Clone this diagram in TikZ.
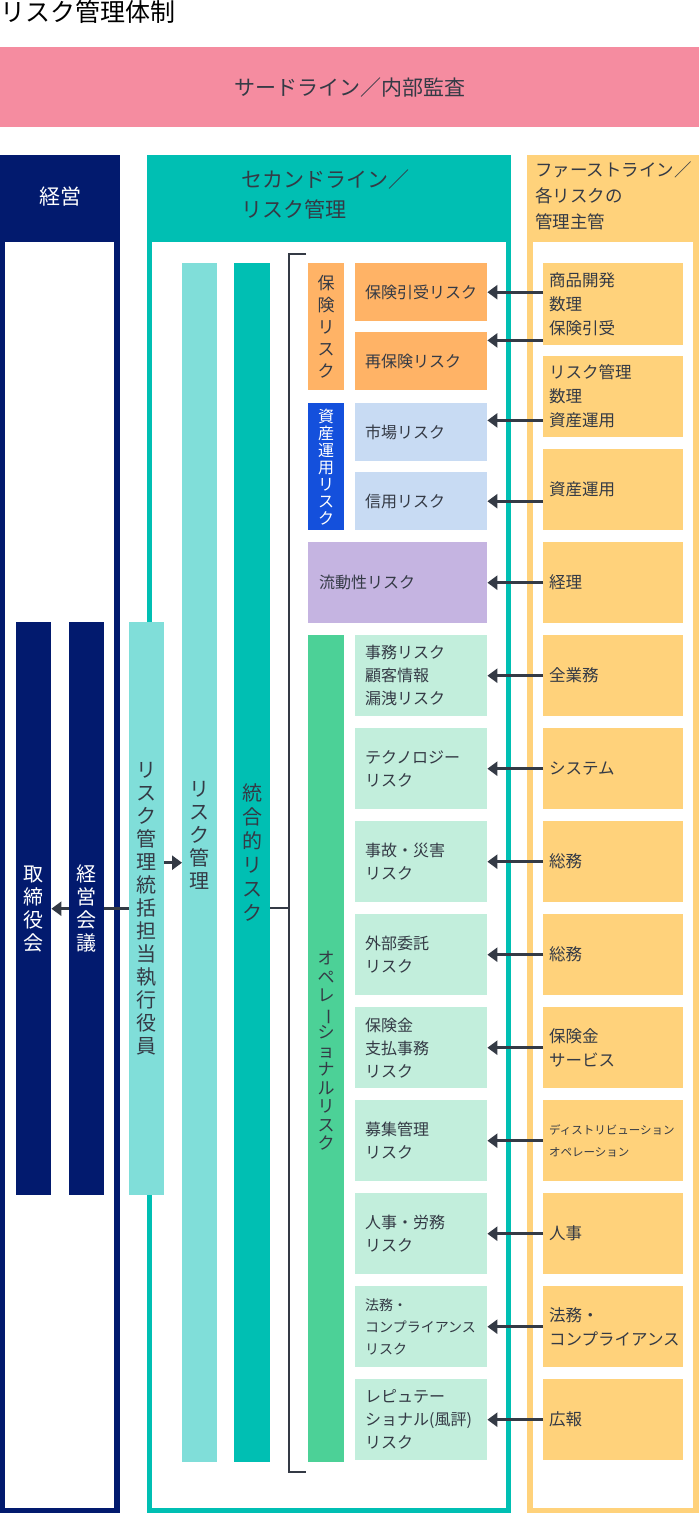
\documentclass[tikz,border=0pt]{standalone}
\usepackage{fontspec}
\setmainfont{Noto Sans CJK JP}
\usetikzlibrary{arrows.meta,positioning}
\definecolor{navy}{HTML}{021A6E}
\definecolor{teal}{HTML}{00BFB3}
\definecolor{lteal}{HTML}{80DED9}
\definecolor{pinkband}{HTML}{F58CA0}
\definecolor{firstc}{HTML}{FFD27B}
\definecolor{insor}{HTML}{FFB366}
\definecolor{assetb}{HTML}{1450DC}
\definecolor{lblue}{HTML}{C8DBF3}
\definecolor{liqp}{HTML}{C5B4E1}
\definecolor{opg}{HTML}{4CD197}
\definecolor{lgreen}{HTML}{C2EEDC}
\definecolor{ink}{HTML}{343A45}
\newcommand{\subfont}{\fontsize{16}{23}\selectfont}
\newcommand{\lowfont}{\fontsize{14}{22}\selectfont}
\newcommand{\frfont}{\fontsize{16.5}{24}\selectfont}
\newcommand{\tinyfont}{\fontsize{11.5}{22}\selectfont}
\newcommand{\vbar}{\rotatebox[origin=c]{-90}{ー}}
\tikzset{
  bar/.style={anchor=north west, minimum width=35pt, inner sep=0pt, align=center},
  sub/.style={anchor=north west, minimum width=132pt, text width=112pt, inner xsep=10pt,
    align=left, minimum height=81pt, text=ink, font=\subfont},
  frbox/.style={anchor=north west, fill=firstc, minimum width=140pt, text width=128pt,
    inner xsep=6pt, align=left, minimum height=81pt, text=ink, font=\frfont},
  arr/.style={draw=ink, line width=3pt, -{Triangle[length=10pt,width=14pt]}},
}
\begin{document}
\begin{tikzpicture}[x=1pt,y=-1pt]
\useasboundingbox (0,0) rectangle (699,1513);
% title and third line
\node[anchor=north west, inner sep=0pt, font=\fontsize{25}{28}\selectfont, text=black] (title) at (0,0) {リスク管理体制};
\node[anchor=north west, fill=pinkband, minimum width=699pt, minimum height=80pt, inner sep=0pt,
  font=\fontsize{21}{24}\selectfont, text=ink] (third) at (0,47) {サードライン／内部監査};
% columns
\fill[navy] (0,155) rectangle (120,1513);
\fill[white] (5,242) rectangle (114,1508);
\node[text=white, font=\fontsize{21}{24}\selectfont] (mgmt) at (60,197) {経営};
\fill[teal] (147,155) rectangle (511,1513);
\fill[white] (152,242) rectangle (506,1508);
\node[anchor=north west, inner sep=0pt, align=left, text=ink, font=\fontsize{21}{30}\selectfont] (second) at (241,170) {セカンドライン／\\リスク管理};
\fill[firstc] (527,155) rectangle (699,1513);
\fill[white] (533,242) rectangle (693,1508);
\node[anchor=north west, inner sep=0pt, align=left, text=ink, font=\fontsize{17.5}{26}\selectfont] (first) at (535,161) {ファーストライン／\\各リスクの\\管理主管};
% management bars
\node[bar, fill=navy, minimum height=573pt, text=white, font=\fontsize{20}{23}\selectfont] (board) at (16,622) {取\\締\\役\\会};
\node[bar, fill=lteal, minimum height=573pt, text=ink, font=\fontsize{20}{23}\selectfont] (cro) at (129,622) {リ\\ス\\ク\\管\\理\\統\\括\\担\\当\\執\\行\\役\\員};
\draw[arr] (cro.west) -- (board.east);
\node[bar, fill=navy, minimum height=573pt, text=white, font=\fontsize{20}{23}\selectfont] (mtg) at (69,622) {経\\営\\会\\議};
\node[bar, fill=lteal, minimum height=1199pt, text=ink, font=\fontsize{20}{23}\selectfont] (rm) at (182,263) {};
\node[text=ink, font=\fontsize{20}{23}\selectfont, align=center, anchor=north] at (rm.north |- 0,778) {リ\\ス\\ク\\管\\理};
\node[bar, fill=teal, minimum height=1199pt, minimum width=36pt] (irm) at (234,263) {};
\node[text=ink, font=\fontsize{20}{24}\selectfont, align=center, anchor=north] at (irm.north |- 0,780) {統\\合\\的\\リ\\ス\\ク};
\draw[arr] (cro.east |- rm.west) -- (rm.west);
% bracket
\draw[ink, line width=2pt] (306,254) -- (289,254) -- (289,1472) -- (306,1472);
\draw[ink, line width=2pt] (irm.east |- 0,908) coordinate (bk) -- (bk -| 289,0);
% categories
\node[bar, fill=insor, minimum height=127pt, minimum width=36pt, text=ink, font=\fontsize{17}{22}\selectfont] (ins) at (308,263) {保\\険\\リ\\ス\\ク};
\node[bar, fill=assetb, minimum height=127pt, minimum width=36pt, text=white, font=\fontsize{16}{17}\selectfont] (ast) at (308,403) {資\\産\\運\\用\\リ\\ス\\ク};
\node[anchor=north west, fill=liqp, minimum width=179pt, text width=157pt, inner xsep=11pt, minimum height=81pt,
  align=left, text=ink, font=\subfont] (liq) at (308,542) {流動性リスク};
\node[bar, fill=opg, minimum height=827pt, minimum width=36pt] (ops) at (308,635) {};
\node[text=ink, font=\fontsize{17}{18.5}\selectfont, align=center, anchor=north] at (ops.north |- 0,948) {オ\\ペ\\レ\\\vbar\\シ\\ョ\\ナ\\ル\\リ\\ス\\ク};
% sub risks
\node[sub, fill=insor, minimum height=58pt] (s1) at (355,263) {保険引受リスク};
\node[sub, fill=insor, minimum height=58pt] (s2) at (355,332) {再保険リスク};
\node[sub, fill=lblue, minimum height=58pt] (s3) at (355,403) {市場リスク};
\node[sub, fill=lblue, minimum height=58pt] (s4) at (355,472) {信用リスク};
% first line boxes
\node[frbox, minimum height=82pt] (f1) at (543,263) {商品開発\\数理\\保険引受};
\node[frbox] (f2) at (543,356) {リスク管理\\数理\\資産運用};
\node[frbox] (f3) at (543,449) {資産運用};
\node[frbox] (f4) at (543,542) {経理};
\draw[arr] (f1.west |- s1.east) -- (s1.east);
\draw[arr] ([yshift=5pt]f1.south west) coordinate (a2) -- (a2 -| s2.east);
\draw[arr] ([yshift=17pt]f2.south west) coordinate (a3) -- (a3 -| s3.east);
\draw[arr] (f3.west |- s4.east) -- (s4.east);
\draw[arr] (f4.west) -- (liq.east);
% operational rows
\foreach \i/\a/\fa/\b/\fb in {
  1/{事務リスク\\顧客情報\\漏洩リスク}/\subfont/全業務/\frfont,
  2/{テクノロジー\\リスク}/\subfont/システム/\frfont,
  3/{事故・災害\\リスク}/\subfont/総務/\frfont,
  4/{外部委託\\リスク}/\subfont/総務/\frfont,
  5/{保険金\\支払事務\\リスク}/\subfont/{保険金\\サービス}/\frfont,
  6/{募集管理\\リスク}/\subfont/{ディストリビューション\\オペレーション}/\tinyfont,
  7/{人事・労務\\リスク}/\subfont/人事/\frfont,
  8/{法務・\\コンプライアンス\\リスク}/\lowfont/{法務・\\コンプライアンス}/\frfont,
  9/{レピュテー\\ショナル(風評)\\リスク}/\subfont/広報/\frfont} {
  \node[sub, fill=lgreen, font=\fa] (o\i) at (355,{635+93*(\i-1)}) {\a};
  \node[frbox, font=\fb] (r\i) at (543,{635+93*(\i-1)}) {\b};
  \draw[arr] (r\i.west) -- (o\i.east);
}
\end{tikzpicture}
\end{document}
